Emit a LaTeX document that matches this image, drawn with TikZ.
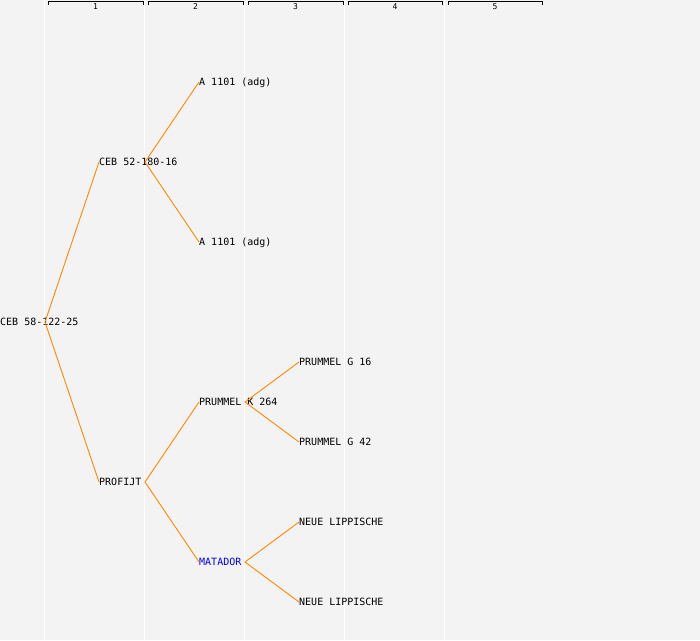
\documentclass[tikz,border=0pt]{standalone}
\usepackage{fontspec}
\newfontfamily\monofont{DejaVu Sans Mono}
\definecolor{bg}{HTML}{F3F3F3}
\definecolor{edgeorange}{HTML}{FF8800}
\definecolor{linkblue}{HTML}{0000FF}
\tikzset{
  lbl/.style={anchor=west, inner sep=0pt, text height=7pt, text depth=0pt, font=\monofont\fontsize{10}{11}\selectfont},
  hdr/.style={inner sep=0pt, font=\monofont\fontsize{8}{9}\selectfont},
  edge/.style={draw=edgeorange, line width=0.9pt},
  colline/.style={draw=white, line width=1.5pt},
  bracket/.style={draw=black, line width=1pt}
}
\begin{document}
\begin{tikzpicture}[x=1pt,y=-1pt]
\fill[bg] (0,0) rectangle (700,640);
\useasboundingbox (0,0) rectangle (700,640);
% column lines
\foreach \x in {44.5,144.5,244.5,344.5,444.5}{
  \draw[colline] (\x,0) -- (\x,640);
}
% header brackets
\foreach \a/\b/\n in {48/143/1,148/243/2,248/343/3,348/442/4,448/542/5}{
  \draw[bracket] (\a,4.5) -- (\a,1.5) -- (\b,1.5) -- (\b,4.5);
  \node[hdr] (h\n) at ({(\a+\b)/2},6.5) {\n};
}
% nodes
\node[lbl] (r) at (0,322) {CEB 58-122-25};
\node[lbl] (c1) at (99,162) {CEB 52-180-16};
\node[lbl] (c2) at (99,482) {PROFIJT};
\node[lbl] (g1) at (199,82) {A 1101 (adg)};
\node[lbl] (g2) at (199,242) {A 1101 (adg)};
\node[lbl] (g3) at (199,402) {PRUMMEL K 264};
\node[lbl, text=linkblue] (g4) at (199,562) {MATADOR};
\node[lbl] (k1) at (299,362) {PRUMMEL G 16};
\node[lbl] (k2) at (299,442) {PRUMMEL G 42};
\node[lbl] (k3) at (299,522) {NEUE LIPPISCHE};
\node[lbl] (k4) at (299,602) {NEUE LIPPISCHE};
% junctions
\coordinate (jr) at (45,322);
\coordinate (jc1) at (145,162);
\coordinate (jc2) at (145,482);
\coordinate (jg3) at (245,402);
\coordinate (jg4) at (245,562);
% connectors
\draw[edge] (c1.west) -- (jr) -- (c2.west);
\draw[edge] (g1.west) -- (jc1) -- (g2.west);
\draw[edge] (g3.west) -- (jc2) -- (g4.west);
\draw[edge] (k1.west) -- (jg3) -- (k2.west);
\draw[edge] (k3.west) -- (jg4) -- (k4.west);
\end{tikzpicture}
\end{document}
